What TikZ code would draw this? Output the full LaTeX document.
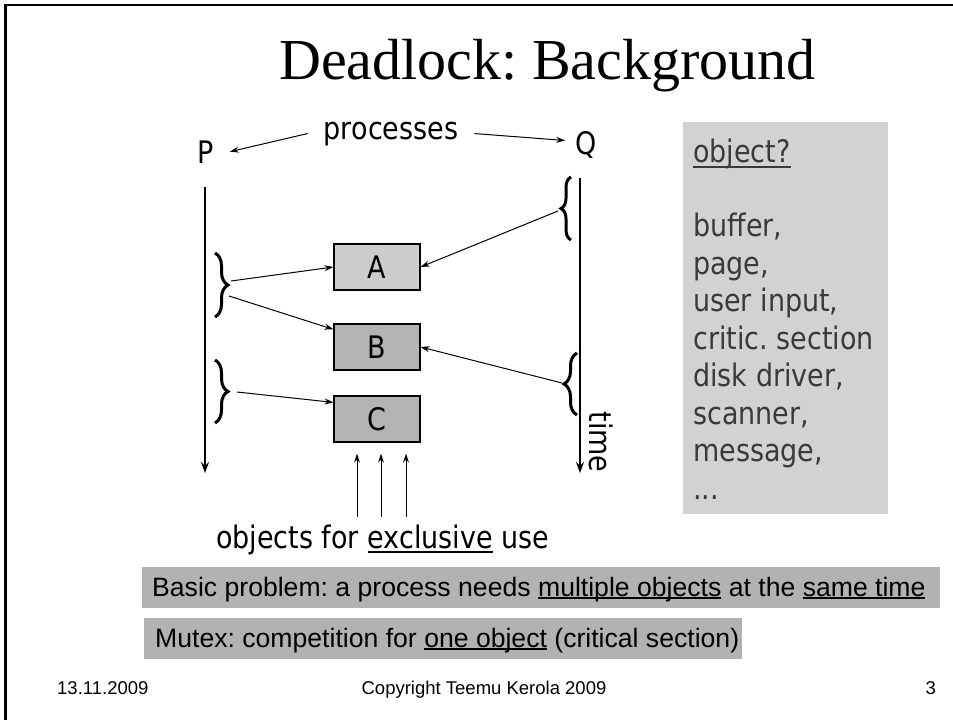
\documentclass[tikz,border=0pt]{standalone}
\usepackage{fontspec}
\setmainfont{Liberation Serif}
\newfontfamily\vfont[FakeStretch=0.87]{DejaVu Sans}
\newfontfamily\afont{Liberation Sans}
\usetikzlibrary{arrows.meta,decorations.pathreplacing,calc}
\frenchspacing

% underline with explicit depth (#1) and rule thickness (#2)
\newsavebox\ulinebox
\newcommand\ulined[3]{\sbox\ulinebox{#3}\rlap{\rule[-#1]{\wd\ulinebox}{#2}}\usebox\ulinebox}

\definecolor{panelgray}{HTML}{D2D2D2}
\definecolor{bargray}{HTML}{B2B2B2}
\definecolor{boxlight}{HTML}{CCCCCC}
\definecolor{boxdark}{HTML}{B3B3B3}
\definecolor{paneltext}{HTML}{3A3A3A}

\tikzset{
  diag/.style={font=\vfont\fontsize{31}{38}\selectfont},
  conn/.style={line width=1pt, -{Stealth[length=9pt,width=6pt,inset=3pt]}},
  lifeline/.style={line width=2.7pt, -{Stealth[length=11pt,width=8pt,inset=4pt]}},
  objbox/.style={draw, line width=1.2pt, minimum width=86pt, minimum height=46pt,
                 inner sep=0pt, diag},
  brc/.style={decorate, decoration={brace, amplitude=#1}, line width=3pt},
  bar/.style={fill=bargray, inner sep=0pt, anchor=north west},
  bartext/.style={font=\afont\fontsize{26.6}{30}\selectfont, anchor=base west, inner sep=0pt},
  paneltxt/.style={diag, text=paneltext, anchor=base west, inner sep=0pt},
  foot/.style={font=\afont\fontsize{18.5}{20}\selectfont, inner sep=0pt}
}

\begin{document}
\begin{tikzpicture}[x=1pt,y=-1pt]
\useasboundingbox (0,0) rectangle (953,720);

% slide frame (left and top edges)
\draw[line width=3pt] (5,720) -- (5,5);
\draw[line width=2pt] (4,5) -- (953,5);

% title
\node[anchor=base west, inner sep=0pt, font=\fontsize{58}{62}\selectfont] (title)
  at (279,79) {Deadlock: Background};

% processes
\node[diag, anchor=base, inner xsep=15.5pt] (P) at (206,163) {P};
\node[diag, anchor=base, inner xsep=10pt] (Q) at (586,154) {Q};
\node[diag, anchor=base, inner xsep=16pt] (proc) at (391,139) {processes};
\draw[conn] (proc.west) -- (P.east);
\draw[conn] (proc.east) -- ($(Q.west)+(0,-4)$);

% time lines
\coordinate (Ptop) at (205,187);
\coordinate (Pend) at (205,473);
\coordinate (Qtop) at (580,178);
\coordinate (Qend) at (580,473);
\draw[lifeline] (Ptop) -- (Pend);
\draw[lifeline] (Qtop) -- (Qend);
\node[diag, rotate=-90] (time) at (601,442) {time};

% critical regions
\draw[brc=13pt] (215,253) -- (215,317);
\draw[brc=13pt] (215,360) -- (215,423);
\draw[brc=10pt] (571,240) -- (571,177);
\draw[brc=13pt] (577,415) -- (577,353);
\coordinate (pb1a) at (231,281);
\coordinate (pb1b) at (229,296);
\coordinate (pb2) at (237,392);
\coordinate (qb1) at (558,211);
\coordinate (qb2) at (562,383);

% shared objects
\node[objbox, fill=boxlight] (A) at (377,267) {A};
\node[objbox, fill=boxdark] (B) at (377,347) {B};
\node[objbox, fill=boxdark] (C) at (377,419) {C};

\draw[conn] (pb1a) -- (A.west);
\draw[conn] (pb1b) -- ([yshift=-6pt]B.north west);
\draw[conn] (pb2) -- ([yshift=-7pt]C.north west);
\draw[conn] (qb1) -- (A.east);
\draw[conn] (qb2) -- (B.east);

\foreach \dx/\n in {-20/1, 4/2, 29/3}{
  \coordinate (up\n) at ($(C.south)+(\dx,74)$);
  \draw[conn, shorten >=11pt] (up\n) -- ([xshift=\dx pt]C.south);
}

\node[diag, anchor=base west, inner sep=0pt] (excl) at (216,548)
  {objects for \ulined{5pt}{1.8pt}{exclusive} use};

% examples of objects
\node[fill=panelgray, anchor=north west, inner sep=0pt,
      minimum width=205pt, minimum height=392pt] (panel) at (683,122) {};
\node[paneltxt] (o0) at (693,162) {\ulined{6pt}{2pt}{object?}};
\node[paneltxt] (o1) at (693,236.5) {buffer,};
\node[paneltxt] (o2) at (693,274) {page,};
\node[paneltxt] (o3) at (693,311.5) {user input,};
\node[paneltxt] (o4) at (693,349) {critic. section};
\node[paneltxt] (o5) at (693,386.5) {disk driver,};
\node[paneltxt] (o6) at (693,424) {scanner,};
\node[paneltxt] (o7) at (693,461.5) {message,};
\node[paneltxt] (o8) at (693,499) {...};

% summary bars
\node[bar, minimum width=798pt, minimum height=41pt] (basicbar) at (142,567) {};
\node[bartext] (basic) at (152,596)
  {Basic problem: a process needs \ulined{3pt}{2pt}{multiple objects} at the \ulined{3pt}{2pt}{same time}};
\node[bar, minimum width=598pt, minimum height=41pt] (mutexbar) at (144,618) {};
\node[bartext] (mutex) at (155,647)
  {Mutex: competition for \ulined{3pt}{2pt}{one object} (critical section)};

% footer
\node[foot, anchor=base west] (date) at (57,694) {13.11.2009};
\node[foot, anchor=base] (copy) at (484,694) {Copyright Teemu Kerola 2009};
\node[foot, anchor=base east] (page) at (936,694) {3};
\end{tikzpicture}
\end{document}
